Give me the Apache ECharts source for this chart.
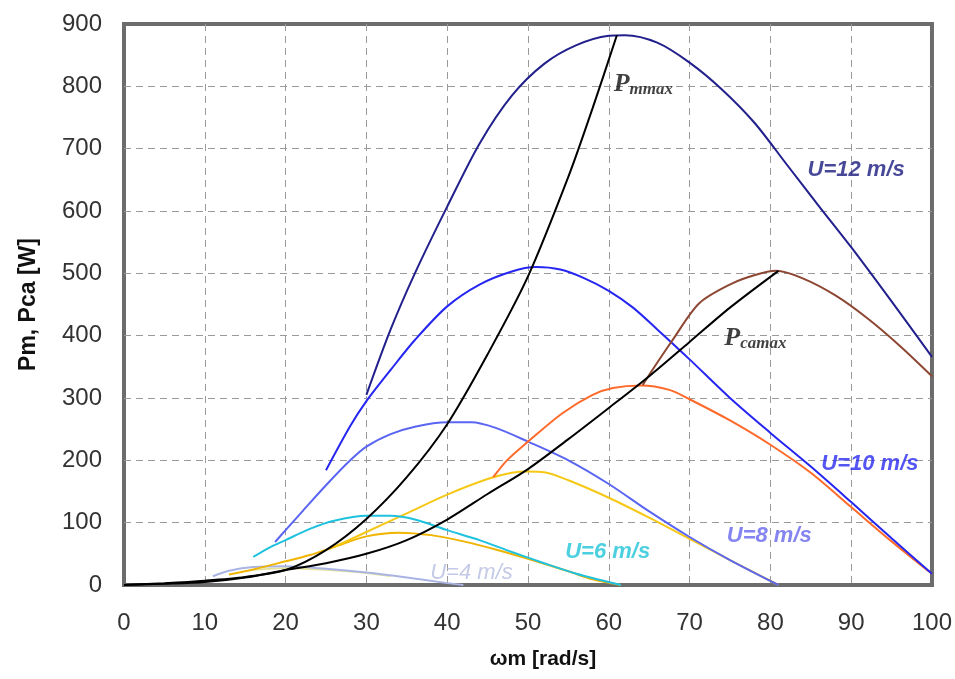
<!DOCTYPE html>
<html><head><meta charset="utf-8">
<script src="https://cdn.jsdelivr.net/npm/echarts@6/dist/echarts.min.js"></script>
<style>html,body{margin:0;padding:0;background:#fff}#c{width:955px;height:679px}</style>
</head><body><div id="c"></div>
<script>
// ---- data (omega [rad/s], power [W]) ----
const u12PmX = [30,33,36,40,44,48,52,56,60,62,66,70,74,78,82,86,90,95,100];
const u12PmY = [305,410,500,607,708,785,836,866,881,882,870,838,795,742,675,608,542,455,366];
const u10PmX = [25,28,30,33,36,40,44,48,51,54,57,60,63,66,70,75,80,85,90,95,100];
const u10PmY = [184,255,295,345,393,447,482,503,510,506,492,472,445,410,362,300,244,190,133,75,18];
const u8PmX = [18.7,20,22,25,28,30,33,36,40,43,46,50,55,60,65,70,75,81];
const u8PmY = [69,88,117,160,200,222,242,254,261,261,252,230,200,162,118,77,40,0];
const u6PmX = [16,18,20,23,26,30,33,36,40,44,48,52,56,59,61.5];
const u6PmY = [45,60,72,90,103,111,111,105,88,72,53,35,18,8,0];
const u4PmX = [11,13,16,20,25,30,35,40,42];
const u4PmY = [14,23,29,30,26,20,12,3,0];
const u4PcaX = [16,20,25,30,33];
const u4PcaY = [24,27,24,19,14];
const u6PcaX = [13,16,20,23,26,30,34,38,42,46,50,55,58,61.5];
const u6PcaY = [17,25,38,48,61,78,84,80,70,57,42,22,9,0];
const u8PcaX = [26,30,35,40,45,48,50,52,55,60,65,70,75,81];
const u8PcaY = [61,85,115,145,170,180,182,181,168,140,108,74,40,0];
const u10PcaX = [45.7,47.4,50,54.3,58,60.5,64,67.5,70,75,80,85,90,95,100];
const u10PcaY = [173,200,230,276,305,316,320,313,298,264,225,180,125,70,18];
const u12PcaX = [64.2,65.4,67.9,71.2,75.3,78,80.7,84,88,92,96,100];
const u12PcaY = [321,345,393,452,484,497,504,492,465,428,384,335];
const pmmaxX = [0,5,10,15,20,25,30,35,40,45,50,55,58,61];
const pmmaxY = [0,3,7,13,24,56,106,173,258,370,495,655,765,882];
const pcamaxX = [0,5,10,15,20,25,30,35,40,45,50,55,60,65,70,75,81];
const pcamaxY = [0,2,5,12,24,35,50,72,105,146,186,234,284,335,390,445,504];
// annotation texts and their anchor in data coordinates
const annTexts = ['Pmmax','U=12 m/s','Pcamax','U=10 m/s','U=8 m/s','U=6 m/s','U=4 m/s'];
const annX = [60.6,84.6,74.3,86.3,74.6,54.6,37.9];
const annY = [803,666,396,194,79,53,19];

const pairs = (xs, ys) => xs.map((x, i) => [x, ys[i]]);
function line(name, xs, ys, color, width) {
  return { name, type: 'line', data: pairs(xs, ys), showSymbol: false, smooth: 0.3,
    lineStyle: { color, width: width || 2 }, itemStyle: { color }, z: 3 };
}
const series = [
  line('U4 Pca', u4PcaX, u4PcaY, '#e4e29a', 1.6),
  line('U4 Pm', u4PmX, u4PmY, '#aab4e4', 2),
  line('U6 Pca', u6PcaX, u6PcaY, '#f0b400', 2),
  line('U8 Pca', u8PcaX, u8PcaY, '#f6c816', 2),
  line('U6 Pm', u6PmX, u6PmY, '#1fc2de', 2),
  line('U8 Pm', u8PmX, u8PmY, '#5a66f2', 2),
  line('U10 Pca', u10PcaX, u10PcaY, '#ff6a2a', 2),
  line('U10 Pm', u10PmX, u10PmY, '#2626f2', 2),
  line('U12 Pca', u12PcaX, u12PcaY, '#8c4632', 2),
  line('U12 Pm', u12PmX, u12PmY, '#22208c', 2),
  line('Pmmax', pmmaxX, pmmaxY, '#000000', 2),
  line('Pcamax', pcamaxX, pcamaxY, '#000000', 2)
];
const serifSub = {
  p: { fontFamily: 'Liberation Serif', fontSize: 26, fontStyle: 'italic', fontWeight: 'bold', color: '#111', lineHeight: 28 },
  s: { fontFamily: 'Liberation Serif', fontSize: 17, fontStyle: 'italic', color: '#111', padding: [10, 0, 0, 0] }
};
const annStyle = [
  { formatter: '{p|P}{s|mmax}', rich: serifSub },
  { color: '#1a1a80' },
  { formatter: '{p|P}{s|camax}', rich: serifSub },
  { color: '#2a2af0' },
  { color: '#6666ee' },
  { color: '#1fc4d8' },
  { color: '#b4bce0', fontWeight: 'normal' }
];
series.push({
  type: 'scatter', symbolSize: 0, z: 5, silent: true,
  data: annTexts.map((t, i) => ({
    value: [annX[i], annY[i]],
    label: Object.assign({ show: true, position: 'right', distance: 0, formatter: t,
      fontFamily: 'Liberation Sans', fontSize: 22, fontStyle: 'italic', fontWeight: 'bold' }, annStyle[i])
  }))
});

const chart = echarts.init(document.getElementById('c'), null, { renderer: 'canvas' });
const split = { show: true, showMinLine: false, showMaxLine: false, lineStyle: { color: '#9a9a9a', width: 1, type: [7, 5] } };
chart.setOption({
  backgroundColor: '#ffffff',
  animation: false,
  grid: { left: 124, right: 22, top: 24, bottom: 94, show: true, borderColor: '#6c6c6c', borderWidth: 4, backgroundColor: 'transparent' },
  xAxis: {
    type: 'value', min: 0, max: 100, interval: 10,
    name: 'ωm [rad/s]', nameLocation: 'middle', nameGap: 64,
    nameTextStyle: { fontFamily: 'Liberation Sans', fontSize: 21, fontWeight: 'bold', color: '#111', padding: [0, 0, 0, 30] },
    axisLine: { show: false }, axisTick: { show: false },
    axisLabel: { fontFamily: 'Liberation Sans', fontSize: 24, color: '#333', margin: 26 },
    splitLine: split
  },
  yAxis: {
    type: 'value', min: 0, max: 900, interval: 100,
    name: 'Pm, Pca [W]', nameLocation: 'middle', nameGap: 84, nameRotate: 90,
    nameTextStyle: { fontFamily: 'Liberation Sans', fontSize: 23, fontWeight: 'bold', color: '#111' },
    axisLine: { show: false }, axisTick: { show: false },
    axisLabel: { fontFamily: 'Liberation Sans', fontSize: 24, color: '#333', margin: 22 },
    splitLine: split
  },
  series
});
</script>
</body></html>
